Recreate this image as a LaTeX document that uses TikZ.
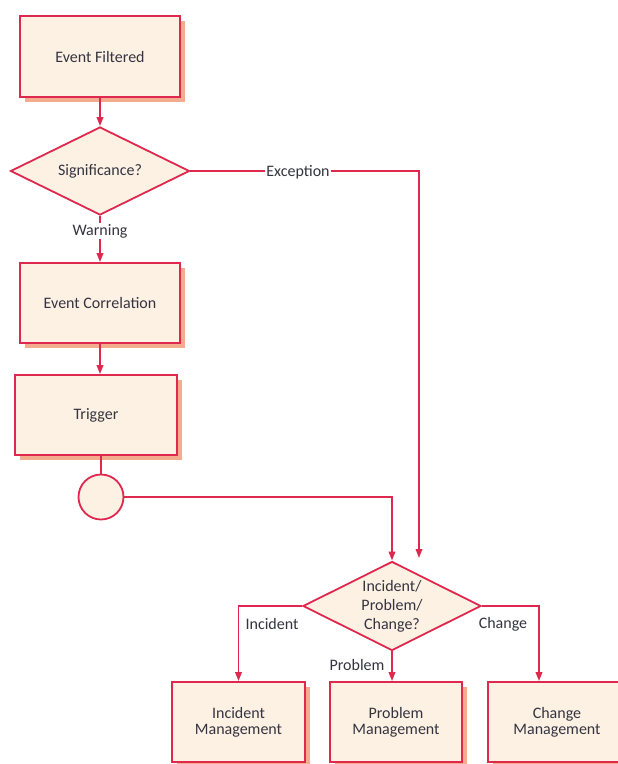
\documentclass[tikz,border=0pt]{standalone}
\usepackage{fontspec}
\setmainfont{Carlito}
\usetikzlibrary{shapes.geometric,arrows.meta,shadows}

\definecolor{flowred}{RGB}{222,40,78}
\definecolor{flowfill}{RGB}{253,241,228}
\definecolor{flowshadow}{RGB}{243,172,142}
\definecolor{flowtext}{RGB}{52,52,64}

\tikzset{
  stepbox/.style={rectangle, draw=flowred, line width=1.8pt, fill=flowfill,
    text=flowtext, align=center, inner sep=0pt,
    font=\fontsize{16}{16}\selectfont,
    drop shadow={shadow xshift=4.5pt, shadow yshift=-4.5pt, fill=flowshadow, opacity=1}},
  decision/.style={diamond, draw=flowred, line width=1.8pt, fill=flowfill,
    text=flowtext, align=center, inner sep=0pt, aspect=2,
    font=\fontsize{16}{19}\selectfont},
  joint/.style={circle, draw=flowred, line width=1.8pt, fill=flowfill,
    minimum size=45pt, inner sep=0pt},
  flow/.style={draw=flowred, line width=1.8pt,
    -{Triangle[length=9pt,width=6.5pt]}},
  link/.style={draw=flowred, line width=1.8pt},
  lbl/.style={text=flowtext, font=\fontsize{16}{16}\selectfont, inner sep=1.5pt},
}

\begin{document}
\begin{tikzpicture}[x=1pt,y=-1pt]
  \clip (0,0) rectangle (618,764);
  \fill[white] (0,0) rectangle (618,764);

  % main chain on the left
  \node[stepbox, minimum width=160pt, minimum height=81pt] (ef) at (100,56.5) {Event Filtered};
  \node[decision, minimum width=179pt, minimum height=88pt] (sig) at (100,171) {Significance?};
  \node[stepbox, minimum width=160pt, minimum height=80pt] (ec) at (100,303) {Event Correlation};
  \node[stepbox, minimum width=162pt, minimum height=80pt] (trig) at (96,415) {Trigger};
  \node[joint] (circ) at (101,497) {};

  % routing decision and targets
  \node[decision, minimum width=178pt, minimum height=89pt] (ipc) at (392,606) {Incident/\\Problem/\\Change?};
  \node[stepbox, minimum width=133pt, minimum height=80pt] (im) at (238.5,722) {Incident\\Management};
  \node[stepbox, minimum width=132pt, minimum height=80pt] (pm) at (396,722) {Problem\\Management};
  \node[stepbox, minimum width=138pt, minimum height=80pt] (cm) at (557,722) {Change\\Management};

  \coordinate (excin) at (419,558);
  \coordinate (cmin) at (539,0 |- cm.north);
  \coordinate (trigin) at (100,0 |- trig.north);

  % connectors
  \draw[flow] (ef.south) -- (sig.north);
  \draw[flow] (sig.south) -- (sig.south |- ec.north);
  \draw[flow] (ec.south) -- (trigin);
  \draw[link] (circ.north) -- (circ.north |- trig.south);
  \draw[flow] (circ.east) -| (ipc.north);
  \draw[flow] (sig.east) -| (excin);
  \draw[flow] (ipc.west) -| (im.north);
  \draw[flow] (ipc.south) -- (ipc.south |- pm.north);
  \draw[flow] (ipc.east) -| (cmin);

  % connector labels
  \node[lbl, fill=white] (warn) at (100,231) {Warning};
  \node[lbl, fill=white] (exc) at (298,172) {Exception};
  \node[lbl] (linc) at (272,624) {Incident};
  \node[lbl] (lchg) at (503,624) {Change};
  \node[lbl] (lprb) at (357,665) {Problem};
\end{tikzpicture}
\end{document}
